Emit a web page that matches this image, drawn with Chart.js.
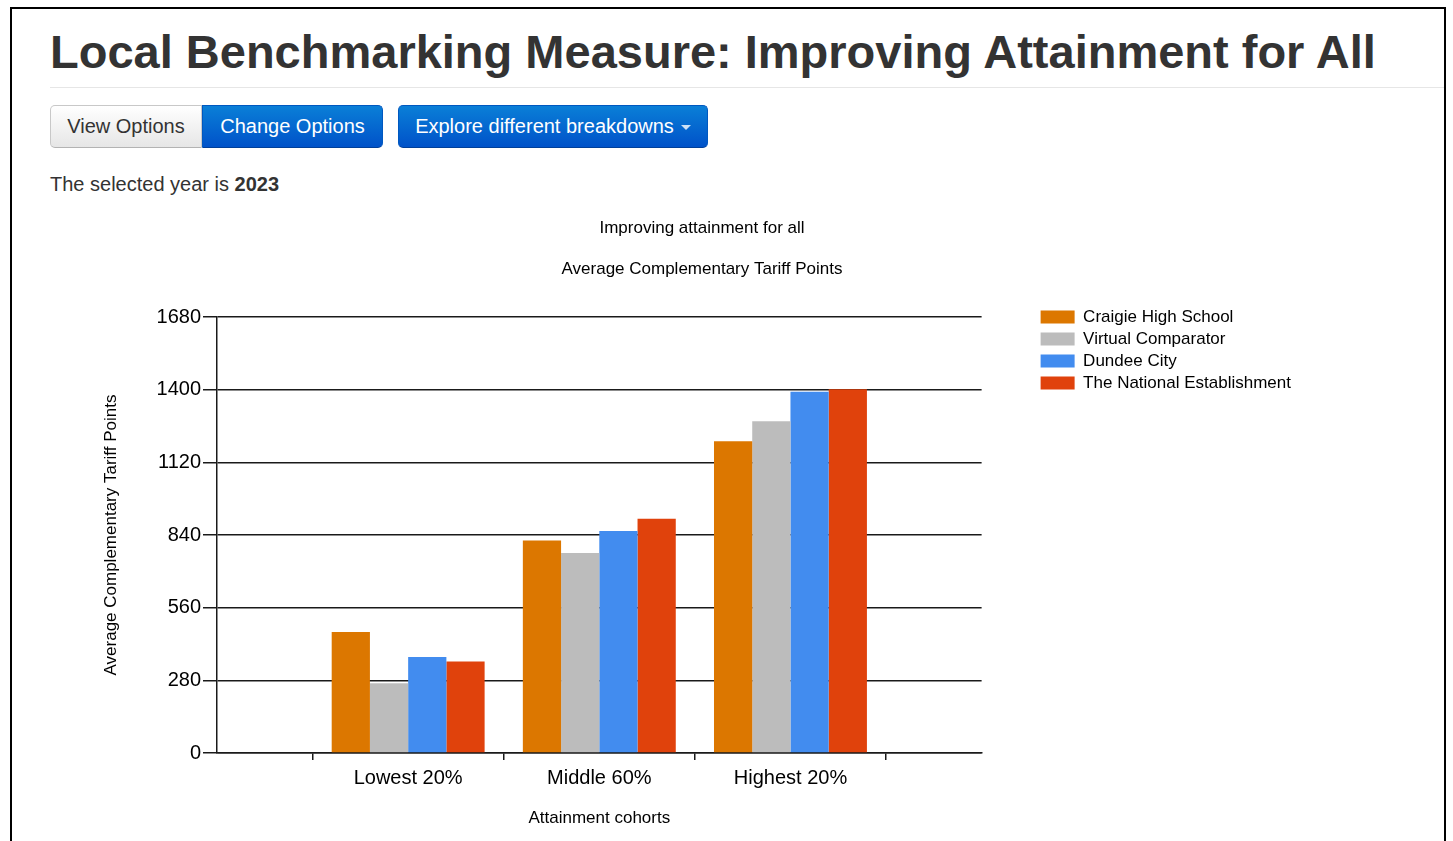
<!DOCTYPE html>
<html>
<head>
<meta charset="utf-8">
<title>Local Benchmarking Measure</title>
<script src="https://cdn.jsdelivr.net/npm/chart.js@4.4.0/dist/chart.umd.min.js"></script>
<style>
  body { margin: 0; background: #fff; font-family: "Liberation Sans", Arial, sans-serif; color: #333; overflow: hidden; }
  .frame { position: absolute; left: 10px; top: 7px; width: 1436px; height: 900px; box-sizing: border-box; border: 2px solid #000; border-bottom: none; }
  h1 { position: absolute; left: 50px; top: 28px; margin: 0; font-size: 47px; line-height: 1; font-weight: bold; color: #333; white-space: nowrap; }
  .rule { position: absolute; left: 50px; top: 87px; width: 1394px; height: 1px; background: #e6e6e6; }
  .btn { position: absolute; top: 105px; height: 43px; box-sizing: border-box; font-size: 20px; line-height: 41px; text-align: center; border: 1px solid; white-space: nowrap; }
  .btn-default { background: linear-gradient(#ffffff, #e6e6e6); border-color: #c8c8c8 #c8c8c8 #b3b3b3; color: #333; }
  .btn-primary { background: linear-gradient(#0a7fd7, #0052c9); border-color: #0058c0 #0058c0 #003f99; color: #fff; }
  .caret { display: inline-block; width: 0; height: 0; margin-left: 7px; vertical-align: middle; border-top: 5px solid #fff; border-left: 5px solid transparent; border-right: 5px solid transparent; opacity: 0.8; }
  .year { position: absolute; left: 50px; top: 174px; font-size: 20px; line-height: 1; color: #333; }
  .chart-box { position: absolute; left: 50px; top: 205px; width: 1251px; height: 636px; }
</style>
</head>
<body>
<div class="frame"></div>
<h1>Local Benchmarking Measure: Improving Attainment for All</h1>
<div class="rule"></div>
<div class="btn btn-default" style="left:50px; width:152px; border-radius:5px 0 0 5px;">View Options</div>
<div class="btn btn-primary" style="left:202px; width:181px; border-radius:0 5px 5px 0;">Change Options</div>
<div class="btn btn-primary" style="left:398px; width:310px; border-radius:5px;">Explore different breakdowns<span class="caret"></span></div>
<div class="year">The selected year is <b>2023</b></div>
<div class="chart-box"><canvas id="barChart"></canvas></div>

<script>
// Dữ liệu
const cohorts = ['Lowest 20%', 'Middle 60%', 'Highest 20%'];
const seriesNames = ['Craigie High School', 'Virtual Comparator', 'Dundee City', 'The National Establishment'];
const craigieHigh = [466, 819, 1201];
const virtualComparator = [269, 771, 1278];
const dundeeCity = [370, 855, 1392];
const nationalEstablishment = [353, 903, 1402];
const seriesColours = ['#dc7700', '#bcbcbc', '#428cef', '#e0420c'];
const yTicks = [0, 280, 560, 840, 1120, 1400, 1680];

// Trục x có nửa ô trống ở hai đầu như biểu đồ gốc
const padEnds = arr => [null, ...arr, null];
const xLabels = ['', ...cohorts, ''];

Chart.defaults.font.family = '"Liberation Sans", Arial, sans-serif';
Chart.defaults.color = '#000';

const seriesValues = [craigieHigh, virtualComparator, dundeeCity, nationalEstablishment];

const ctx = document.getElementById('barChart').getContext('2d');
const barChart = new Chart(ctx, {
    type: 'bar',
    data: {
        labels: xLabels,
        datasets: seriesNames.map((name, i) => ({
            label: name,
            data: padEnds(seriesValues[i]),
            backgroundColor: seriesColours[i],
            borderWidth: 0,
            barPercentage: 1,
            categoryPercentage: 0.8
        }))
    },
    options: {
        responsive: true,
        maintainAspectRatio: false,
        animation: false,
        layout: {
            padding: { left: 53, right: 0, top: 0, bottom: 0 }
        },
        plugins: {
            title: {
                display: true,
                text: 'Improving attainment for all',
                color: '#000',
                font: { size: 17, weight: 'normal' },
                padding: { top: 13, bottom: 10 }
            },
            subtitle: {
                display: true,
                text: 'Average Complementary Tariff Points',
                color: '#000',
                font: { size: 17 },
                padding: { top: 10.4, bottom: 37.8 }
            },
            legend: {
                position: 'right',
                align: 'start',
                fullSize: true,
                maxWidth: 330,
                // tiêu đề rỗng chỉ để đẩy các mục chú thích xuống ngang đỉnh trục
                title: { display: true, text: '', font: { size: 17 }, padding: { top: 0, bottom: 78 } },
                labels: {
                    boxWidth: 34,
                    boxHeight: 13,
                    padding: 5,
                    color: '#000',
                    font: { size: 17 }
                }
            },
            tooltip: { enabled: false }
        },
        scales: {
            x: {
                offset: false,
                grid: {
                    offset: true,
                    drawOnChartArea: false,
                    drawTicks: true,
                    tickLength: 7,
                    color: '#1a1a1a',
                    lineWidth: 1.5
                },
                border: { display: true, color: '#1a1a1a', width: 1.5 },
                ticks: { color: '#000', font: { size: 20 }, padding: 6, autoSkip: false, maxRotation: 0 },
                title: {
                    display: true,
                    text: 'Attainment cohorts',
                    color: '#000',
                    font: { size: 17 },
                    padding: { top: 0, bottom: 12 }
                },
                afterFit: scale => { scale.height = 88; }
            },
            y: {
                min: yTicks[0],
                max: yTicks[yTicks.length - 1],
                ticks: {
                    stepSize: yTicks[1] - yTicks[0],
                    color: '#000',
                    font: { size: 20 },
                    padding: 2,
                    callback: value => String(value)
                },
                grid: { color: '#1a1a1a', lineWidth: 1.5, tickLength: 14 },
                border: { display: true, color: '#1a1a1a', width: 1.5 },
                title: {
                    display: true,
                    text: 'Average Complementary Tariff Points',
                    color: '#000',
                    font: { size: 17, lineHeight: 1 },
                    padding: { top: 0, bottom: 0 }
                },
                afterFit: scale => { scale.width = 114; }
            },
            // trục ẩn, chỉ tạo khoảng trống giữa vùng vẽ và chú thích
            yGap: {
                type: 'linear',
                axis: 'y',
                position: 'right',
                grid: { display: false },
                border: { display: false },
                ticks: { display: false },
                afterFit: scale => { scale.width = 54; }
            }
        }
    }
});
</script>
</body>
</html>
